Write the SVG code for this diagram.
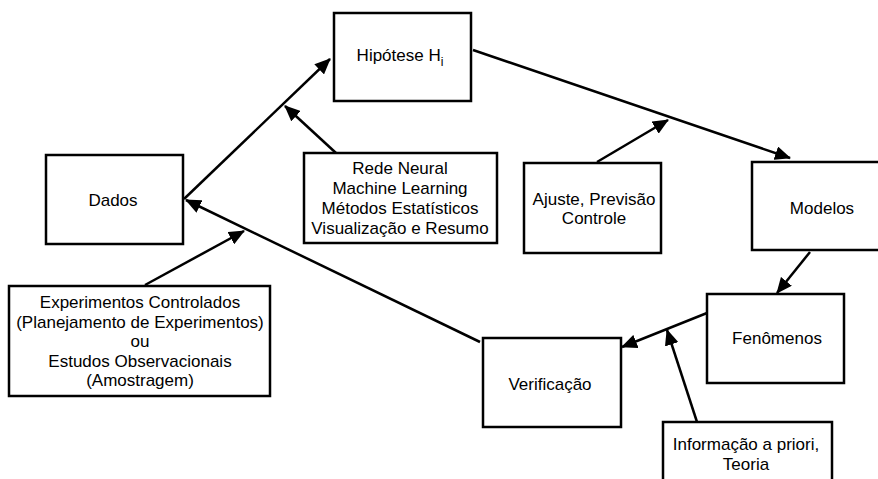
<svg xmlns="http://www.w3.org/2000/svg" width="878" height="479" viewBox="0 0 878 479">
<style>
.box{fill:#fff;stroke:#000;stroke-width:2.5}
.t{font-family:"Liberation Sans",Arial,sans-serif;font-size:17px;fill:#000;text-anchor:middle}
.c{stroke:#000;stroke-width:2.5;fill:none;marker-end:url(#ah)}
</style>
<defs>
<marker id="ah" markerUnits="userSpaceOnUse" markerWidth="16" markerHeight="14" refX="15" refY="7" orient="auto">
<path d="M0,0 L16,7 L0,14 z" fill="#000"/>
</marker>
</defs>
<rect width="878" height="479" fill="#fff"/>
<g id="connectors">
<line class="c" x1="184" y1="199" x2="330" y2="59"/>
<line class="c" x1="336" y1="153" x2="285" y2="106"/>
<line class="c" x1="473" y1="50" x2="790" y2="158"/>
<line class="c" x1="597" y1="162" x2="668" y2="120"/>
<line class="c" x1="810" y1="252" x2="777" y2="293"/>
<line class="c" x1="707" y1="313" x2="622" y2="347"/>
<line class="c" x1="697" y1="422" x2="667" y2="330"/>
<line class="c" x1="480" y1="342" x2="186" y2="200"/>
<line class="c" x1="145" y1="285" x2="244" y2="231"/>
</g>
<g id="hipotese">
<rect class="box" x="334" y="13" width="137" height="88"/>
<text class="t" x="400" y="61">Hipótese H<tspan font-size="12" dy="5">i</tspan></text>
</g>
<g id="dados">
<rect class="box" x="46" y="155" width="137" height="89"/>
<text class="t" x="113" y="206">Dados</text>
</g>
<g id="metodos">
<rect class="box" x="304" y="153" width="193" height="90"/>
<text class="t" x="400" y="174">Rede Neural</text>
<text class="t" x="400" y="194">Machine Learning</text>
<text class="t" x="400" y="214">Métodos Estatísticos</text>
<text class="t" x="400" y="234">Visualização e Resumo</text>
</g>
<g id="ajuste">
<rect class="box" x="524" y="163" width="137" height="90"/>
<text class="t" x="594" y="205">Ajuste, Previsão</text>
<text class="t" x="594" y="224">Controle</text>
</g>
<g id="modelos">
<rect class="box" x="752" y="162" width="140" height="88"/>
<text class="t" x="822" y="214">Modelos</text>
</g>
<g id="fenomenos">
<rect class="box" x="707" y="294" width="137" height="89"/>
<text class="t" x="777" y="344">Fenômenos</text>
</g>
<g id="verificacao">
<rect class="box" x="483" y="338" width="138" height="89"/>
<text class="t" x="550" y="390">Verificação</text>
</g>
<g id="informacao">
<rect class="box" x="663" y="422" width="169" height="80"/>
<text class="t" x="746" y="450">Informação a priori,</text>
<text class="t" x="746" y="470">Teoria</text>
</g>
<g id="experimentos">
<rect class="box" x="9" y="286" width="261" height="110"/>
<text class="t" x="140" y="308">Experimentos Controlados</text>
<text class="t" x="140" y="327.5">(Planejamento de Experimentos)</text>
<text class="t" x="140" y="347">ou</text>
<text class="t" x="140" y="366.5">Estudos Observacionais</text>
<text class="t" x="140" y="386">(Amostragem)</text>
</g>
</svg>
